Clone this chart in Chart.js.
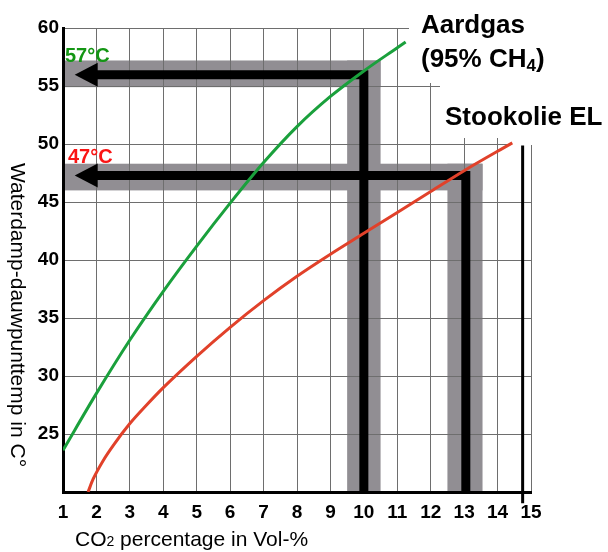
<!DOCTYPE html>
<html>
<head>
<meta charset="utf-8">
<script src="https://cdn.jsdelivr.net/npm/chart.js@4.4.1/dist/chart.umd.min.js"></script>
<style>
    html, body { margin: 0; padding: 0; background: #fff; }
    #wrap { width: 608px; height: 552px; position: relative; }
</style>
</head>
<body>
<div id="wrap"><canvas id="dewChart"></canvas></div>
<script>
// CO2 percentage (Vol-%) -> waterdamp dauwpunt (°C)
const gasCO2 = [1, 2, 3, 4, 5, 6, 7, 8, 9, 10, 11, 11.25];
const gasDew = [23.6, 28.5, 33.1, 37.3, 41.2, 44.9, 48.4, 51.5, 54.1, 56.3, 58.3, 58.8];

const oilCO2 = [1.75, 1.9, 2.2, 2.5, 3, 3.5, 4, 5, 6, 7, 8, 9, 10, 11, 12, 13, 14.44];
const oilDew = [20.0, 21.1, 22.7, 24.0, 25.9, 27.5, 29.0, 31.7, 34.2, 36.5, 38.6, 40.5, 42.3, 44.1, 45.9, 47.7, 50.1];

// afleeslijnen: CO2 waarde -> dauwpunt
const readCO2 = [10.0, 13.05];
const readDew = [55.97, 47.28];
const readTip = 1.35;
const readLabels = ['57°C', '47°C'];
const readColors = ['#149614', '#fa1414'];

// grijze banden [x0, x1, y0, y1]
const bandsH = [[1, 10.5, 54.9, 57.2], [1, 13.55, 46.0, 48.3]];
const bandsV = [[9.5, 10.5, 20, 57.2], [12.5, 13.55, 20, 48.3]];

// grenslijn stookolie
const limitCO2 = 14.75;
const limitDew = [49.87, 19.03];

// as-ticks
const xTickValues = [1, 2, 3, 4, 5, 6, 7, 8, 9, 10, 11, 12, 13, 14, 15];
const yTickValues = [20, 25, 30, 35, 40, 45, 50, 55, 60];

// witte vlakken achter de labels [x0, y0] (tot rechts / boven)
const labelBoxes = [[11.37, 55.3], [12.3, 50.6], [14.46, 49.95]];

const FONT = '"Liberation Sans", Arial, sans-serif';

function pts(xs, ys) {
    return xs.map((v, i) => ({ x: v, y: ys[i] }));
}

const overlay = {
    id: 'overlay',
    beforeDraw(chart) {
        const { ctx, scales: { x, y } } = chart;
        ctx.save();
        ctx.fillStyle = '#918e93';
        [...bandsH, ...bandsV].forEach(b => {
            const x0 = x.getPixelForValue(b[0]);
            const x1 = x.getPixelForValue(b[1]);
            const y0 = y.getPixelForValue(b[2]);
            const y1 = y.getPixelForValue(b[3]);
            ctx.fillRect(x0, y1, x1 - x0, y0 - y1);
        });
        ctx.restore();
    },
    beforeDatasetsDraw(chart) {
        const { ctx, width, scales: { x, y } } = chart;
        ctx.save();
        ctx.fillStyle = '#fff';
        let top = 0;
        labelBoxes.forEach(b => {
            const x0 = Math.floor(x.getPixelForValue(b[0]));
            const y1 = Math.ceil(y.getPixelForValue(b[1]));
            ctx.fillRect(x0, top, width - x0, y1 - top);
            top = y1 - 1;
        });
        ctx.restore();
    },
    afterDatasetsDraw(chart) {
        const { ctx, scales: { x, y } } = chart;
        ctx.save();
        // pijlpunten
        ctx.fillStyle = '#000';
        readDew.forEach(d => {
            const tx = x.getPixelForValue(readTip);
            const ty = y.getPixelForValue(d);
            ctx.beginPath();
            ctx.moveTo(tx, ty);
            ctx.lineTo(tx + 23, ty - 12);
            ctx.lineTo(tx + 23, ty + 12);
            ctx.closePath();
            ctx.fill();
        });

        // temperatuur labels
        ctx.font = 'bold 20px ' + FONT;
        ctx.textAlign = 'left';
        ctx.textBaseline = 'alphabetic';
        readLabels.forEach((t, i) => {
            ctx.fillStyle = readColors[i];
            const lx = chart.chartArea.left + 2 + i * 3;
            const ly = y.getPixelForValue(readDew[i]) - 13;
            ctx.fillText(t, lx, ly);
        });

        // brandstof labels
        ctx.fillStyle = '#000';
        ctx.font = 'bold 26px ' + FONT;
        ctx.fillText('Aardgas', 421, 33);
        let px = 421;
        ctx.fillText('(95% CH', px, 67);
        px += ctx.measureText('(95% CH').width;
        ctx.font = 'bold 17px ' + FONT;
        ctx.fillText('4', px, 71);
        px += ctx.measureText('4').width;
        ctx.font = 'bold 26px ' + FONT;
        ctx.fillText(')', px, 67);
        ctx.fillText('Stookolie EL', 445, 125);

        // x-as titel
        ctx.font = '21px ' + FONT;
        let tx = 75;
        ctx.fillText('CO', tx, 546);
        tx += ctx.measureText('CO').width;
        ctx.font = '14px ' + FONT;
        ctx.fillText('2', tx, 546);
        tx += ctx.measureText('2').width;
        ctx.font = '21px ' + FONT;
        ctx.fillText(' percentage in Vol-%', tx, 546);

        // y-as titel (van boven naar beneden)
        ctx.translate(17, 315);
        ctx.rotate(Math.PI / 2);
        ctx.textAlign = 'center';
        ctx.textBaseline = 'middle';
        ctx.font = '21px ' + FONT;
        ctx.fillText('Waterdamp-dauwpunttemp in C°', 0, 0);
        ctx.restore();
    }
};

const lineBase = {
    pointRadius: 0,
    fill: false,
    borderCapStyle: 'butt',
    borderJoinStyle: 'miter'
};

const datasets = [
    { ...lineBase, label: 'Aardgas', data: pts(gasCO2, gasDew), borderColor: '#1aa03c', borderWidth: 3, cubicInterpolationMode: 'monotone', order: 0 },
    { ...lineBase, label: 'Stookolie EL', data: pts(oilCO2, oilDew), borderColor: '#e1412a', borderWidth: 3, cubicInterpolationMode: 'monotone', order: 0 },
    { ...lineBase, label: 'grens', data: [{ x: limitCO2, y: limitDew[0] }, { x: limitCO2, y: limitDew[1] }], borderColor: '#000', borderWidth: 3, clip: false, order: 1 }
];
readCO2.forEach((c, i) => {
    datasets.push({
        ...lineBase,
        label: readLabels[i],
        data: [{ x: readTip + 0.5, y: readDew[i] }, { x: c, y: readDew[i] }, { x: c, y: yTickValues[0] }],
        borderColor: '#000',
        borderWidth: 9,
        order: 2
    });
});

new Chart(document.getElementById('dewChart'), {
    type: 'line',
    data: { datasets },
    options: {
        responsive: true,
        maintainAspectRatio: false,
        animation: false,
        layout: { padding: { top: 28, right: 77, left: 0, bottom: 0 } },
        plugins: { legend: { display: false }, tooltip: { enabled: false } },
        scales: {
            x: {
                type: 'linear',
                min: xTickValues[0],
                max: xTickValues[xTickValues.length - 1],
                afterBuildTicks: s => { s.ticks = xTickValues.map(v => ({ value: v })); },
                afterFit: s => { s.height = 60; },
                grid: { color: '#6e6e6e', lineWidth: 1, drawTicks: false },
                border: { color: '#000', width: 3 },
                ticks: { color: '#000', padding: 9, maxRotation: 0, font: { family: FONT, size: 19, weight: 'bold' } }
            },
            y: {
                type: 'linear',
                min: yTickValues[0],
                max: yTickValues[yTickValues.length - 1],
                afterBuildTicks: s => { s.ticks = yTickValues.map(v => ({ value: v })); },
                afterFit: s => { s.width = 63; },
                grid: { color: '#6e6e6e', lineWidth: 1, drawTicks: false },
                border: { color: '#000', width: 3 },
                ticks: {
                    color: '#000',
                    padding: 4,
                    font: { family: FONT, size: 19, weight: 'bold' },
                    callback: v => (v === yTickValues[0] ? '' : v)
                }
            }
        }
    },
    plugins: [overlay]
});
</script>
</body>
</html>
